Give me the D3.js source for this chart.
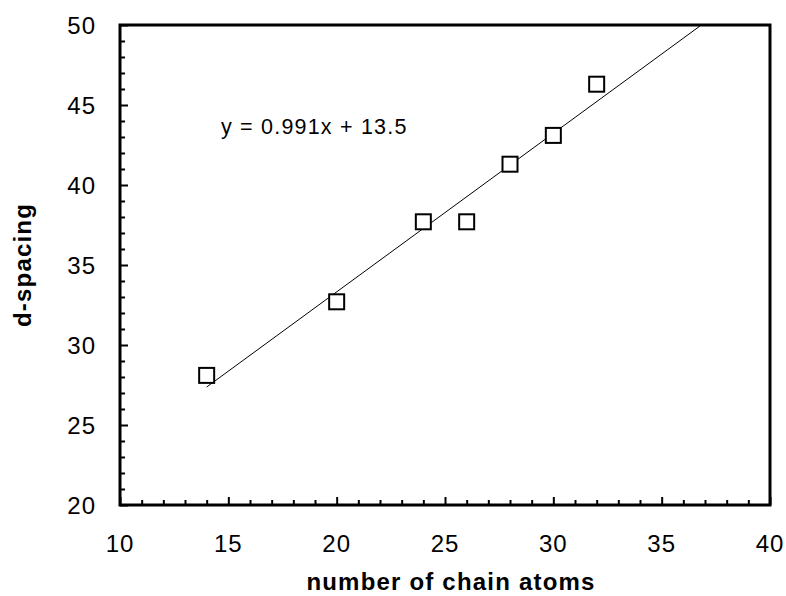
<!DOCTYPE html>
<html>
<head>
<meta charset="utf-8">
<script src="https://cdn.jsdelivr.net/npm/d3@7"></script>
<style>
  body { margin: 0; background: #fff; }
  svg { font-family: Arial, "Liberation Sans", sans-serif; }
</style>
</head>
<body>
<svg id="chart" width="786" height="596"></svg>
<script>
// data
const chainAtoms = [14, 20, 24, 26, 28, 30, 32];
const dSpacing = [28.1, 32.7, 37.7, 37.7, 41.3, 43.1, 46.3];
const xTicks = [10, 15, 20, 25, 30, 35, 40];
const yTicks = [20, 25, 30, 35, 40, 45, 50];
const fitSlope = 0.991;
const fitIntercept = 13.5;
const fitRange = [14, 40];

const SVG = d3.select("#chart");
const LEFT = 120, RIGHT = 770, TOP = 25, BOTTOM = 505;

const X = d3.scaleLinear().domain([10, 40]).range([LEFT, RIGHT]);
const Y = d3.scaleLinear().domain([20, 50]).range([BOTTOM, TOP]);

// clip for the trend line
SVG.append("defs").append("clipPath").attr("id", "plotClip")
  .append("rect")
  .attr("x", LEFT).attr("y", TOP)
  .attr("width", RIGHT - LEFT).attr("height", BOTTOM - TOP);

// minor + major ticks, drawn inward
const MINOR_X = d3.range(10, 41, 1);
const MINOR_Y = d3.range(20, 51, 1);

const xAxis = d3.axisBottom(X)
  .tickValues(MINOR_X)
  .tickSize(0)
  .tickFormat("");
const xAxisG = SVG.append("g").attr("transform", `translate(0,${BOTTOM})`);
xAxis(xAxisG);
xAxisG.select(".domain").remove();
xAxisG.selectAll(".tick line")
  .attr("y2", (d) => (d % 5 === 0 ? -8 : -5))
  .attr("stroke", "#000")
  .attr("stroke-width", 2);

const yAxis = d3.axisLeft(Y)
  .tickValues(MINOR_Y)
  .tickSize(0)
  .tickFormat("");
const yAxisG = SVG.append("g").attr("transform", `translate(${LEFT},0)`);
yAxis(yAxisG);
yAxisG.select(".domain").remove();
yAxisG.selectAll(".tick line")
  .attr("x2", (d) => (d % 5 === 0 ? 8 : 5))
  .attr("stroke", "#000")
  .attr("stroke-width", 2);

// tick labels
SVG.append("g").selectAll("text")
  .data(xTicks)
  .join("text")
  .attr("x", (d) => X(d))
  .attr("y", 552)
  .attr("text-anchor", "middle")
  .style("font-size", "24px")
  .style("letter-spacing", "1px")
  .text((d) => d);

SVG.append("g").selectAll("text")
  .data(yTicks)
  .join("text")
  .attr("x", 96)
  .attr("y", (d) => Y(d))
  .attr("dy", "0.36em")
  .attr("text-anchor", "end")
  .style("font-size", "24px")
  .style("letter-spacing", "1px")
  .text((d) => d);

// trend line
SVG.append("line")
  .attr("clip-path", "url(#plotClip)")
  .attr("x1", X(fitRange[0]))
  .attr("y1", Y(fitSlope * fitRange[0] + fitIntercept))
  .attr("x2", X(fitRange[1]))
  .attr("y2", Y(fitSlope * fitRange[1] + fitIntercept))
  .attr("stroke", "#000")
  .attr("stroke-width", 1);

// markers
const SQ = 15;
SVG.append("g").selectAll("rect")
  .data(chainAtoms)
  .join("rect")
  .attr("x", (d) => X(d) - SQ / 2)
  .attr("y", (d, i) => Y(dSpacing[i]) - SQ / 2)
  .attr("width", SQ)
  .attr("height", SQ)
  .attr("fill", "#fff")
  .attr("stroke", "#000")
  .attr("stroke-width", 2);

// frame
SVG.append("rect")
  .attr("x", LEFT).attr("y", TOP)
  .attr("width", RIGHT - LEFT).attr("height", BOTTOM - TOP)
  .attr("fill", "none")
  .attr("stroke", "#000")
  .attr("stroke-width", 3);

// equation
SVG.append("text")
  .attr("x", 221)
  .attr("y", 134)
  .style("font-size", "21.5px")
  .style("letter-spacing", "1.2px")
  .text(`y = ${fitSlope}x + ${fitIntercept}`);

// axis titles
SVG.append("text")
  .attr("x", 451)
  .attr("y", 590)
  .attr("text-anchor", "middle")
  .style("font-size", "24px")
  .style("font-weight", "bold")
  .style("letter-spacing", "1.2px")
  .text("number of chain atoms");

SVG.append("text")
  .attr("transform", `translate(31,${(TOP + BOTTOM) / 2}) rotate(-90)`)
  .attr("text-anchor", "middle")
  .style("font-size", "24px")
  .style("font-weight", "bold")
  .style("letter-spacing", "1.2px")
  .text("d-spacing");
</script>
</body>
</html>
